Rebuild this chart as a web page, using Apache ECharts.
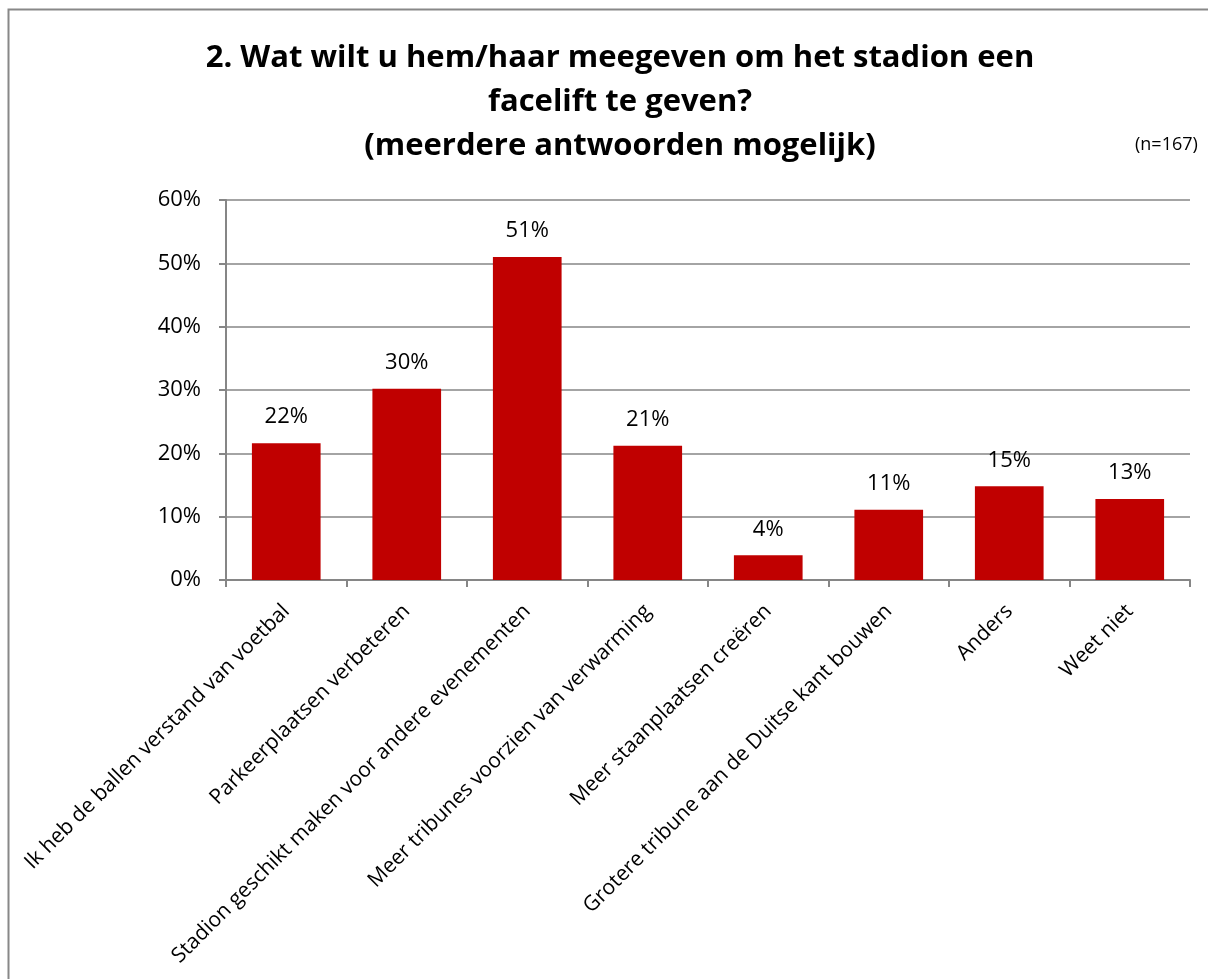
<!DOCTYPE html>
<html>
<head>
<meta charset="utf-8">
<script src="https://cdn.jsdelivr.net/npm/echarts@6/dist/echarts.min.js"></script>
<style>
html,body{margin:0;padding:0;background:#fff;}
#c{width:1208px;height:979px;}
</style>
</head>
<body>
<div id="c"></div>
<script>
const categories = [
  "Ik heb de ballen verstand van voetbal",
  "Parkeerplaatsen verbeteren",
  "Stadion geschikt maken voor andere evenementen",
  "Meer tribunes voorzien van verwarming",
  "Meer staanplaatsen creëren",
  "Grotere tribune aan de Duitse kant bouwen",
  "Anders",
  "Weet niet"
];
const values = [21.6, 30.2, 51.0, 21.2, 3.9, 11.1, 14.8, 12.8];
const titleLines = [
  "2. Wat wilt u hem/haar meegeven om het stadion een",
  "facelift te geven?",
  "(meerdere antwoorden mogelijk)"
];
const noteText = "(n=167)";

const FONT = "Open Sans";
const chart = echarts.init(document.getElementById('c'), null, {renderer: 'canvas'});
chart.setOption({
  backgroundColor: '#fff',
  animation: false,
  title: {
    text: titleLines.join('\n'),
    left: 615, top: 31, textAlign: 'center',
    textStyle: {fontFamily: FONT, fontWeight: 'bold', fontSize: 31, lineHeight: 44, color: '#000'}
  },
  graphic: [
    {type: 'rect', shape: {x: 8.5, y: 9.5, width: 1220, height: 1000},
     style: {fill: 'none', stroke: '#888', lineWidth: 2}, silent: true},
    {type: 'text', left: 1135, top: 136,
     style: {text: noteText, font: '18px "' + FONT + '"', fill: '#000'}}
  ],
  grid: {left: 226, right: 18, top: 200, bottom: 399, containLabel: false},
  xAxis: {
    type: 'category',
    data: categories,
    axisLine: {lineStyle: {color: '#868686', width: 2}},
    axisTick: {show: true, alignWithLabel: false, length: 7, lineStyle: {color: '#868686', width: 2}},
    axisLabel: {rotate: 45, interval: 0, margin: 28, fontFamily: FONT, fontSize: 21, color: '#000'}
  },
  yAxis: {
    type: 'value', min: 0, max: 60, interval: 10,
    axisLine: {show: true, lineStyle: {color: '#868686', width: 2}},
    axisTick: {show: true, length: 7, lineStyle: {color: '#868686', width: 2}},
    splitLine: {lineStyle: {color: '#868686', width: 1.5}},
    axisLabel: {formatter: v => v + '%', margin: 25, fontFamily: FONT, fontSize: 22, color: '#000'}
  },
  series: [{
    type: 'bar',
    data: values,
    barWidth: '57%',
    itemStyle: {color: '#C00000'},
    label: {show: true, position: 'top', distance: 15,
      formatter: p => Math.round(p.value) + '%',
      fontFamily: FONT, fontSize: 22, color: '#000'}
  }]
});
</script>
</body>
</html>
